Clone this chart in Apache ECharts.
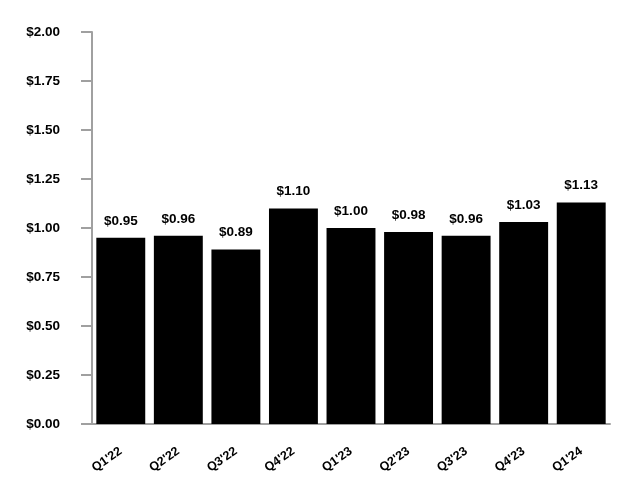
<!DOCTYPE html>
<html><head><meta charset="utf-8">
<script src="https://cdn.jsdelivr.net/npm/echarts@6/dist/echarts.min.js"></script>
<style>html,body{margin:0;padding:0;background:#fff}#c{width:640px;height:500px}</style>
</head><body><div id="c"></div>
<script>
const categories = ["Q1'22","Q2'22","Q3'22","Q4'22","Q1'23","Q2'23","Q3'23","Q4'23","Q1'24"];
const values = [0.95,0.96,0.89,1.10,1.00,0.98,0.96,1.03,1.13];
const chart = echarts.init(document.getElementById('c'));
const font = 'Liberation Sans, Arial, sans-serif';
chart.setOption({
  animation:false,
  grid:{left:92,right:30,top:32,bottom:76},
  xAxis:{type:'category',data:categories,
    axisLine:{lineStyle:{color:'#a0a0a0',width:2}},
    axisTick:{show:false},
    axisLabel:{rotate:35,color:'#000',fontWeight:'bold',fontSize:12.5,fontFamily:font,margin:26}},
  yAxis:{type:'value',min:0,max:2,interval:0.25,
    axisLine:{show:true,lineStyle:{color:'#a0a0a0',width:2}},
    axisTick:{show:true,length:11,lineStyle:{color:'#a0a0a0',width:2}},
    splitLine:{show:false},
    axisLabel:{color:'#000',fontWeight:'bold',fontSize:13.5,fontFamily:font,margin:32,
      formatter:v=>'$'+v.toFixed(2)}},
  series:[{type:'bar',data:values,barWidth:'85%',itemStyle:{color:'#000'},
    label:{show:true,position:'top',distance:10,color:'#000',fontWeight:'bold',fontSize:13.5,fontFamily:font,
      formatter:p=>'$'+p.value.toFixed(2)}}]
});
</script></body></html>
